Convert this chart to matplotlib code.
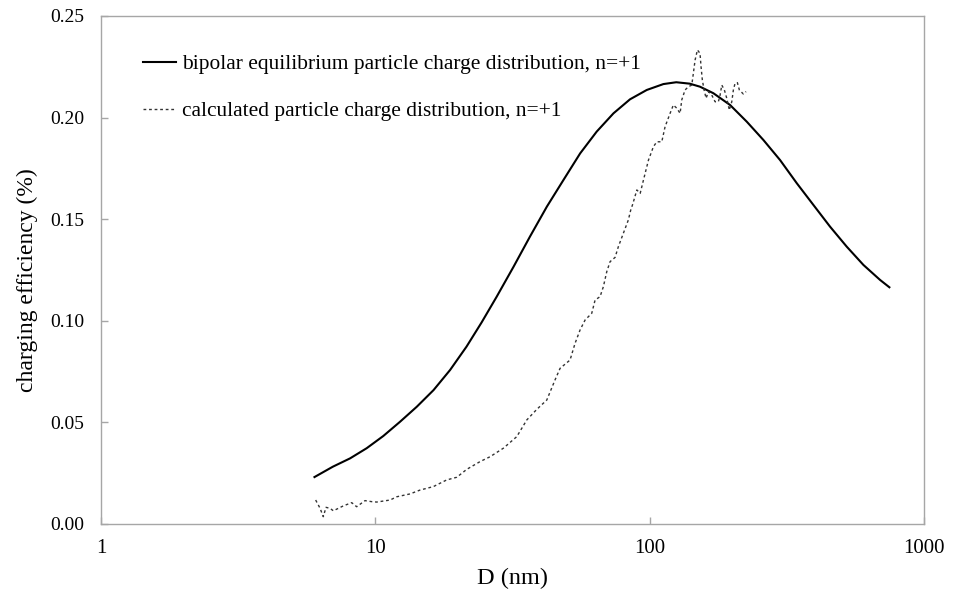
import matplotlib
matplotlib.use("Agg")
import matplotlib.pyplot as plt
from matplotlib.ticker import FixedLocator, NullLocator

plt.rcParams['font.family'] = ['Liberation Serif', 'DejaVu Serif']

# bipolar equilibrium charge distribution, n=+1
bipolar_d = [6.0, 7.0, 8.09, 9.3, 10.69, 12.3, 14.16, 16.3, 18.73, 21.5,
             24.4, 27.7, 31.9, 36.6, 42.2, 48.5, 55.8, 64.1, 73.8, 84.8,
             97.6, 112.2, 125.0, 140.0, 152.6, 170.7, 196.4, 225.9, 259.7,
             298.8, 343.8, 395.3, 454.7, 522.7, 601.3, 691.8, 747.8]
bipolar_eff = [0.0231, 0.0282, 0.0323, 0.0373, 0.0433, 0.0503, 0.0577, 0.0659,
               0.0758, 0.0873, 0.0992, 0.1119, 0.1266, 0.1414, 0.1562, 0.1693,
               0.1824, 0.1931, 0.2021, 0.2090, 0.2136, 0.2165, 0.2174, 0.2167,
               0.2152, 0.2120, 0.2062, 0.1980, 0.1890, 0.1791, 0.1677, 0.1570,
               0.1463, 0.1365, 0.1275, 0.1201, 0.1165]

# calculated charge distribution, n=+1
calc_d = [6.06, 6.29, 6.46, 6.61, 6.84, 7.03, 7.64, 8.20, 8.55, 9.17, 9.70,
          10.12, 11.32, 11.97, 13.38, 14.55, 16.27, 18.21, 19.81, 21.54, 24.08,
          26.19, 29.29, 32.78, 35.65, 38.76, 42.16, 45.19, 47.14, 51.26, 53.46,
          55.76, 58.16, 61.5, 63.24, 65.95, 67.8, 69.77, 71.73, 74.8, 76.9,
          80.2, 83.6, 85.3, 86.8, 89.8, 92.35, 94.93, 99.0, 103.2, 106.2,
          110.7, 113.8, 118.7, 122.0, 125.6, 129.1, 130.9, 134.6, 138.4, 142.4,
          144.3, 146.4, 149.3, 152.6, 153.9, 155.6, 157.9, 160.6, 163.7, 168.4,
          173.2, 178.0, 180.6, 183.2, 187.2, 191.0, 195.2, 199.2, 201.9, 204.8,
          208.8, 212.3, 219.6, 224.6]
calc_eff = [0.0118, 0.0077, 0.0036, 0.0082, 0.0077, 0.0065, 0.0089, 0.0105,
            0.0085, 0.0115, 0.0110, 0.0108, 0.0118, 0.0134, 0.0148, 0.0167,
            0.0184, 0.0217, 0.0230, 0.0269, 0.0307, 0.0331, 0.0373, 0.0430,
            0.0512, 0.0564, 0.0610, 0.0709, 0.0766, 0.0807, 0.0889, 0.0955,
            0.1004, 0.1037, 0.1102, 0.1119, 0.1168, 0.1242, 0.1291, 0.1312,
            0.1365, 0.1431, 0.1496, 0.1545, 0.1575, 0.1644, 0.1627, 0.1693,
            0.1791, 0.1857, 0.1881, 0.1881, 0.1955, 0.2021, 0.2062, 0.2046,
            0.2021, 0.2087, 0.2136, 0.2152, 0.2160, 0.2218, 0.2283, 0.2333,
            0.2316, 0.2251, 0.2185, 0.2136, 0.2095, 0.2128, 0.2111, 0.2078,
            0.2078, 0.2111, 0.2160, 0.2136, 0.2095, 0.2037, 0.2078, 0.2136,
            0.2169, 0.2172, 0.2136, 0.2116, 0.2128]

x_ticks = [1, 10, 100, 1000]
x_ticklabels = ["1", "10", "100", "1000"]
y_ticks = [0.00, 0.05, 0.10, 0.15, 0.20, 0.25]

fig = plt.figure(figsize=(9.54, 5.95), dpi=100)
ax = fig.add_axes([101 / 954, 1 - 524 / 595, 823 / 954, 508 / 595])

ax.plot(bipolar_d, bipolar_eff, color="black", lw=1.5,
        label="bipolar equilibrium particle charge distribution, n=+1")
ax.plot(calc_d, calc_eff, color="#333333", lw=1.0, linestyle=(0, (2, 2)),
        label="calculated particle charge distribution, n=+1")

ax.set_xscale("log")
ax.set_xlim(1, 1000)
ax.set_ylim(0, 0.25)
ax.xaxis.set_major_locator(FixedLocator(x_ticks))
ax.xaxis.set_minor_locator(NullLocator())
ax.set_xticklabels(x_ticklabels)
ax.set_yticks(y_ticks)
ax.set_yticklabels([f"{v:.2f}" for v in y_ticks])

for s in ax.spines.values():
    s.set_color("#a6a6a6")
    s.set_linewidth(1.0)
ax.tick_params(axis="both", direction="in", length=5, width=1,
               color="#a6a6a6")
ax.tick_params(axis="x", pad=11, labelsize=15)
ax.tick_params(axis="y", pad=12, labelsize=14)

ax.set_xlabel("D (nm)", fontsize=17.5, labelpad=7)
ax.set_ylabel("charging efficiency (%)", fontsize=17, labelpad=9, y=0.48)

ax.legend(loc="upper left", bbox_to_anchor=(0.041, 0.941), frameon=False,
          fontsize=15.4, handlelength=1.55, handletextpad=0.25,
          labelspacing=1.25, borderaxespad=0)

fig.savefig("out.png", dpi=100)
